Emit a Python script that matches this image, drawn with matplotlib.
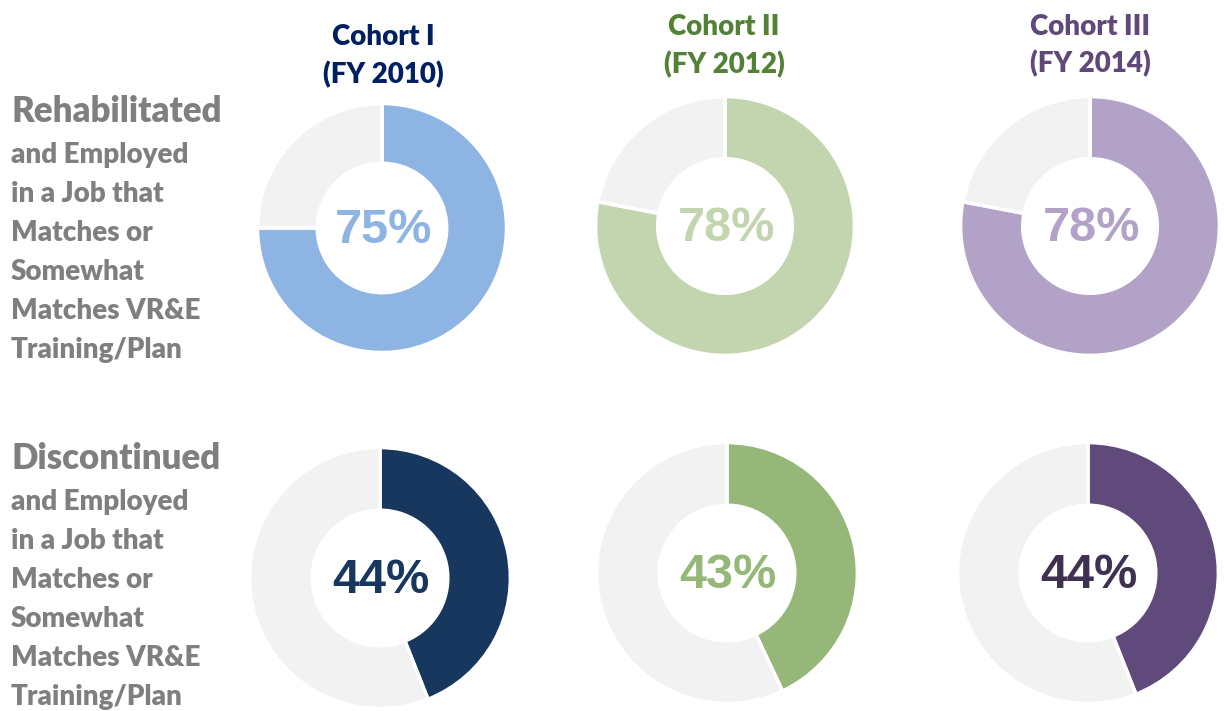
import matplotlib.pyplot as plt

# cohort names and fiscal years
cohorts = ['Cohort I', 'Cohort II', 'Cohort III']
fiscal_years = ['(FY 2010)', '(FY 2012)', '(FY 2014)']

# share employed in a matching job, per cohort
rehab_pct = [75, 78, 78]
discont_pct = [44, 43, 44]

row_heads = ['Rehabilitated', 'Discontinued']
row_lines = ['and Employed', 'in a Job that', 'Matches or', 'Somewhat',
             'Matches VR&E', 'Training/Plan']

# colours
title_colors = ['#002060', '#538135', '#5F497A']
rehab_colors = ['#8EB4E3', '#C2D5AE', '#B3A2C7']
discont_colors = ['#17375E', '#95B777', '#604A7B']
discont_text = ['#17375E', '#95B777', '#3F3151']
rest_color = '#F2F2F2'
label_gray = '#7F7F7F'

W, H = 1224, 711
fig = plt.figure(figsize=(W / 100, H / 100), dpi=100)
fig.patch.set_facecolor('white')


def fx(x):
    return x / W


def fy(y):
    return 1 - y / H


# donut centres / radii in pixels (top row, bottom row)
top_pos = [(382, 228, 127), (725, 226, 132), (1090, 226, 132)]
bot_pos = [(380, 578, 133), (727, 573, 133), (1088, 573, 133)]


def donut(pos, pct, color, txt_color):
    cx, cy, r = pos
    ax = fig.add_axes([fx(cx - r), fy(cy + r), 2 * r / W, 2 * r / H])
    ax.pie([pct, 100 - pct], startangle=90, counterclock=False,
           colors=[color, rest_color], radius=1,
           wedgeprops=dict(width=0.48, edgecolor='white', linewidth=2.5))
    ax.set_xlim(-1.02, 1.02)
    ax.set_ylim(-1.02, 1.02)
    ax.axis('off')
    ax.text(0.01, -0.02, '{}%'.format(pct), ha='center', va='center',
            fontsize=35, fontweight='bold', color=txt_color,
            family='Liberation Sans')


for i in range(3):
    donut(top_pos[i], rehab_pct[i], rehab_colors[i], rehab_colors[i])
    donut(bot_pos[i], discont_pct[i], discont_colors[i], discont_text[i])

# column titles
title_base = [(383, 45, 83), (724, 35, 73), (1090, 35, 72)]
for i in range(3):
    x, b1, b2 = title_base[i]
    fig.text(fx(x), fy(b1), cohorts[i], ha='center', va='baseline',
             fontsize=20, fontweight='heavy', color=title_colors[i], family='Lato')
    fig.text(fx(x), fy(b2), fiscal_years[i], ha='center', va='baseline',
             fontsize=20, fontweight='heavy', color=title_colors[i], family='Lato')

# row labels on the left
for head, base in zip(row_heads, [122, 469]):
    fig.text(fx(11), fy(base), head, ha='left', va='baseline',
             fontsize=25, fontweight='heavy', color=label_gray, family='Lato')
    for k, line in enumerate(row_lines):
        fig.text(fx(11), fy(base + 41 + 39 * k), line, ha='left', va='baseline',
                 fontsize=20, fontweight='heavy', color=label_gray, family='Lato')

fig.savefig('out.png', dpi=100, facecolor='white')
